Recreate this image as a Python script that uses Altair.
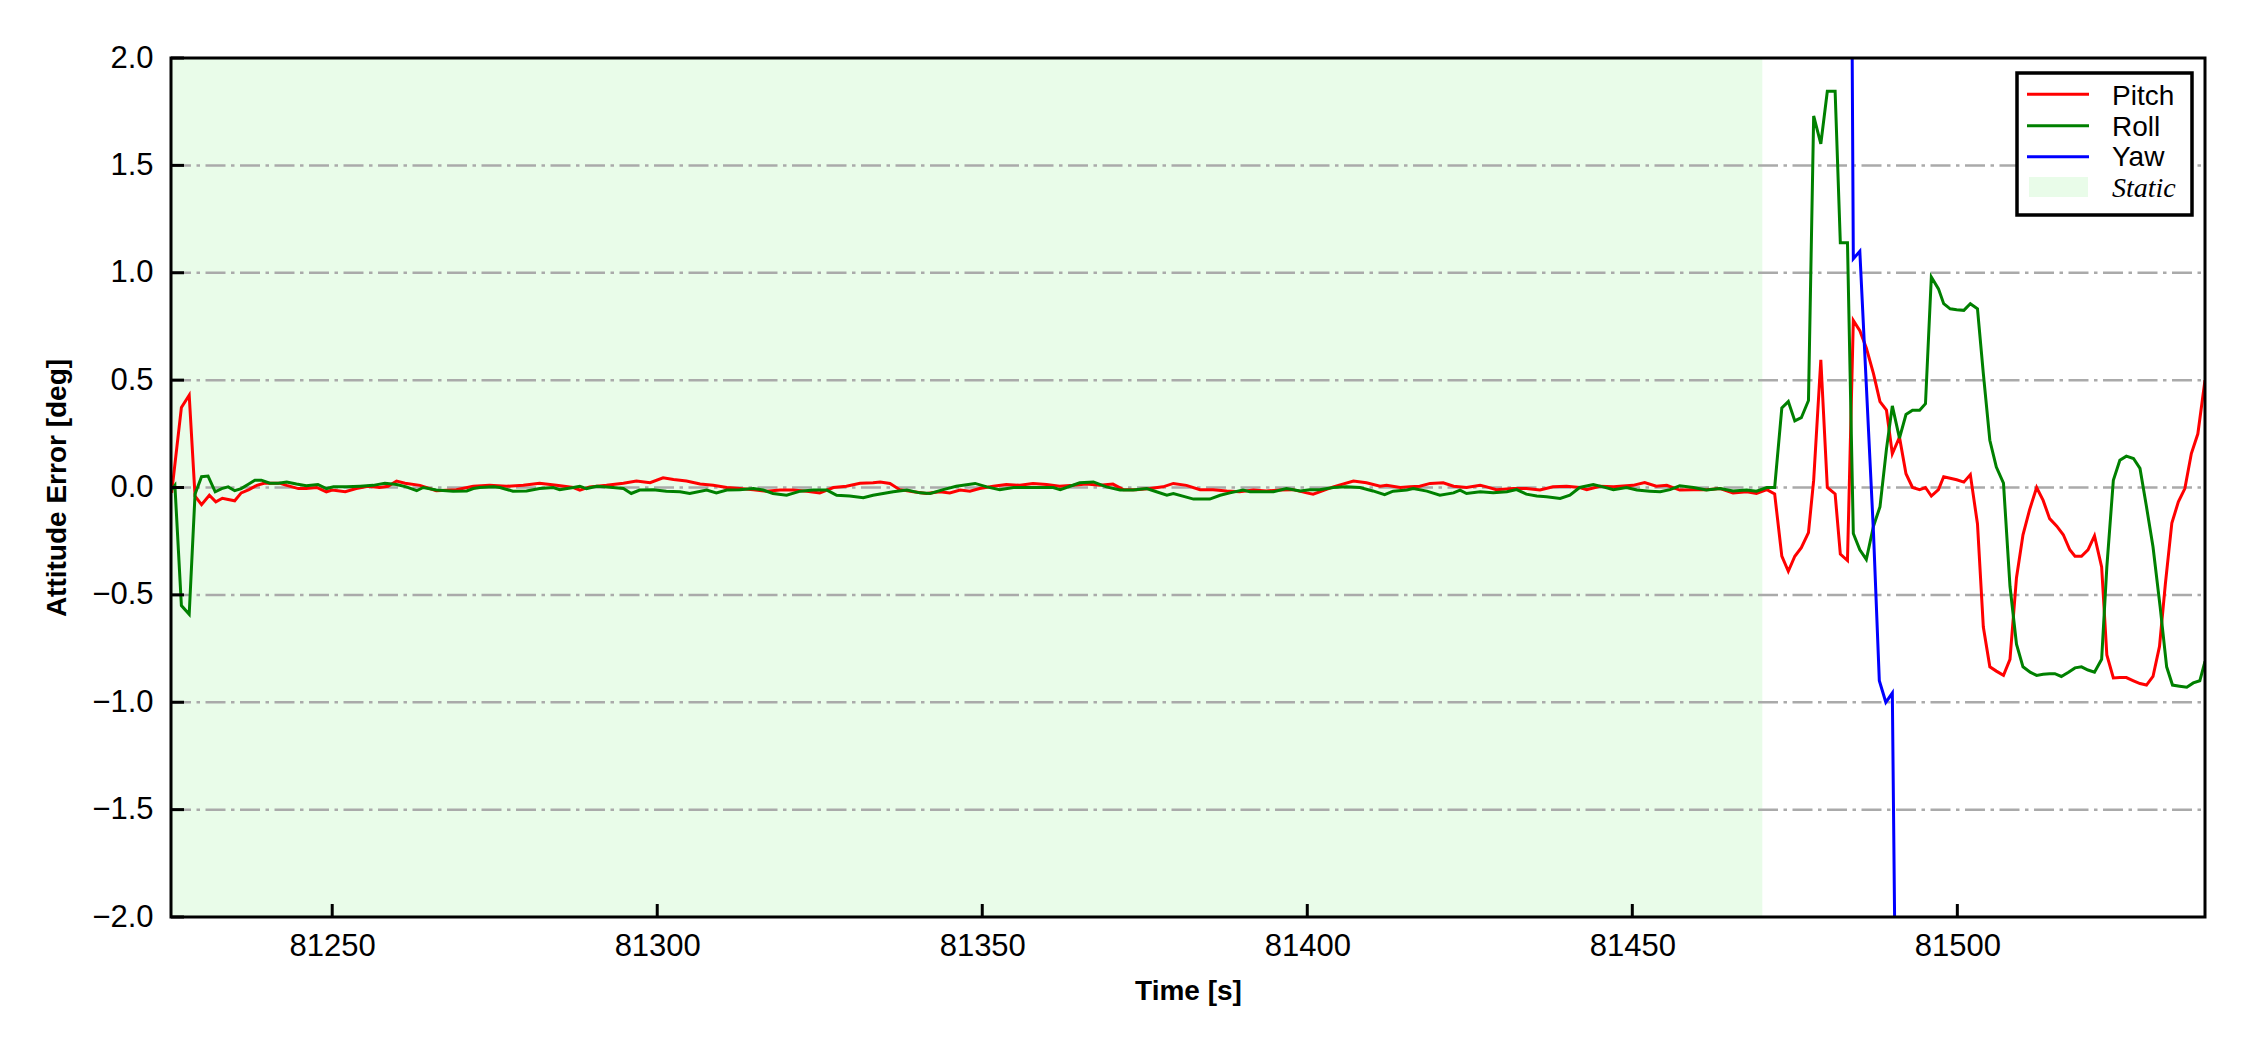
import altair as alt
import pandas as pd

# ---------------- data ----------------
pitch_t_a = [81225.3, 81226.8, 81228.0, 81228.9, 81229.9, 81231.1, 81232.1, 81233.1, 81234.0, 81235.0,
             81236.0, 81237.2, 81238.4, 81239.5, 81240.7, 81242.0, 81243.0, 81244.8, 81246.0, 81247.6,
             81249.1, 81250.0, 81252.0, 81253.7, 81255.5, 81257.3, 81258.6, 81259.9, 81261.2, 81263.5,
             81266.0]
pitch_v_a = [-0.025, 0.373, 0.43, -0.04, -0.08, -0.036, -0.067, -0.05, -0.056, -0.062,
             -0.025, -0.01, 0.01, 0.02, 0.02, 0.02, 0.01, -0.005, -0.005, 0.0,
             -0.02, -0.012, -0.02, -0.005, 0.006, 0.0, 0.006, 0.03, 0.02, 0.01,
             -0.015]
pitch_t_b = [81269.1, 81271.7, 81274.2, 81276.8, 81279.4, 81281.9, 81284.5, 81287.1, 81288.1, 81289.6,
             81292.2, 81294.8, 81296.8, 81298.9, 81300.9, 81302.5, 81304.5, 81306.6, 81308.6, 81310.7,
             81312.7, 81314.8, 81316.8, 81318.9, 81320.9, 81323.0, 81325.0, 81327.1, 81329.1, 81331.2,
             81333.2]
pitch_v_b = [-0.01, 0.006, 0.01, 0.006, 0.01, 0.02, 0.01, 0.0, -0.012, 0.003,
             0.01, 0.02, 0.03, 0.022, 0.045, 0.037, 0.03, 0.016, 0.01, 0.0,
             -0.005, -0.01, -0.017, -0.012, -0.012, -0.017, -0.025, 0.0, 0.006, 0.02,
             0.022]
pitch_t_c = [81334.3, 81335.8, 81337.3, 81339.4, 81341.4, 81343.5, 81345.0, 81346.6, 81348.1, 81349.6,
             81351.7, 81353.7, 81355.8, 81357.8, 81359.9, 81361.9, 81364.0, 81366.0, 81368.1, 81370.1,
             81371.7, 81373.7, 81375.8, 81377.8, 81379.4, 81381.4, 81383.5, 81385.5, 81387.6, 81389.6,
             81391.7, 81393.7, 81395.8, 81397.8, 81399.9, 81400.9]
pitch_v_c = [0.026, 0.019, -0.01, -0.02, -0.028, -0.02, -0.025, -0.012, -0.017, -0.005,
             0.006, 0.014, 0.01, 0.019, 0.014, 0.006, 0.01, 0.016, 0.01, 0.016,
             -0.01, -0.01, -0.005, 0.003, 0.019, 0.01, -0.01, -0.01, -0.016, -0.02,
             -0.012, -0.016, -0.012, -0.01, -0.025, -0.031]
pitch_t_d = [81401.9, 81404.0, 81407.1, 81409.1, 81411.2, 81412.2, 81414.3, 81415.8, 81417.3, 81418.9,
             81420.9, 81422.5, 81424.5, 81426.6, 81427.6, 81429.1, 81431.7, 81433.7, 81435.8, 81437.8,
             81439.9, 81441.9, 81443.0, 81445.0, 81447.1, 81450.1, 81451.9, 81453.7, 81455.3, 81457.3,
             81459.4, 81461.4, 81463.5, 81465.5, 81467.6, 81469.1, 81470.7]
pitch_v_d = [-0.02, 0.003, 0.03, 0.022, 0.006, 0.01, 0.0, 0.003, 0.006, 0.019,
             0.022, 0.006, 0.0, 0.01, 0.003, -0.01, -0.005, -0.005, -0.012, 0.003,
             0.006, 0.0, -0.01, 0.006, 0.003, 0.01, 0.023, 0.006, 0.01, -0.012,
             -0.01, -0.01, -0.005, -0.025, -0.02, -0.028, -0.01]
pitch_t_e = [81471.9, 81473.0, 81474.0, 81475.0, 81476.0, 81477.1, 81477.9, 81479.0, 81480.0, 81481.2,
             81482.0, 81483.1, 81484.0, 81485.0, 81486.0, 81487.1, 81488.1, 81489.1, 81490.0, 81491.1,
             81492.1, 81493.1, 81494.2, 81495.1, 81496.0, 81497.1, 81497.9, 81498.9, 81499.9, 81501.0,
             81502.0, 81503.1, 81504.0, 81505.0, 81506.0, 81507.1, 81508.1, 81509.1, 81510.1, 81511.1,
             81512.2, 81513.2, 81514.2, 81515.3, 81516.3, 81517.3, 81518.1, 81519.1, 81520.1, 81521.1,
             81522.2, 81523.0, 81524.0, 81525.0, 81526.0, 81527.1, 81528.1, 81529.1, 81530.1, 81531.1,
             81532.0, 81533.0, 81534.0, 81535.0, 81536.0, 81537.0, 81538.1]
pitch_v_e = [-0.03, -0.32, -0.39, -0.32, -0.28, -0.21, 0.034, 0.595, 0.0, -0.03,
             -0.31, -0.34, 0.778, 0.73, 0.65, 0.53, 0.40, 0.36, 0.157, 0.234,
             0.064, 0.0, -0.01, 0.0, -0.04, -0.01, 0.05, 0.043, 0.036, 0.025,
             0.06, -0.17, -0.65, -0.835, -0.855, -0.875, -0.80, -0.42, -0.22, -0.105,
             0.0, -0.06, -0.145, -0.18, -0.22, -0.29, -0.32, -0.32, -0.29, -0.225,
             -0.37, -0.78, -0.887, -0.885, -0.885, -0.90, -0.913, -0.92, -0.88, -0.74,
             -0.45, -0.165, -0.067, -0.005, 0.158, 0.25, 0.50]

roll_t_a = [81225.3, 81225.8, 81226.8, 81228.0, 81228.9, 81229.9, 81230.9, 81232.0, 81233.0, 81234.0,
            81235.0, 81236.0, 81237.1, 81238.1, 81239.1, 81240.4, 81241.7, 81243.0, 81244.5, 81246.0,
            81247.8, 81249.1, 81250.2, 81252.2, 81254.3, 81256.3, 81258.1, 81259.9, 81261.4, 81263.0,
            81264.0, 81266.0]
roll_v_a = [-0.01, 0.01, -0.55, -0.59, -0.03, 0.05, 0.053, -0.02, -0.005, 0.003,
            -0.015, -0.005, 0.015, 0.034, 0.034, 0.02, 0.02, 0.026, 0.016, 0.008,
            0.014, -0.005, 0.003, 0.003, 0.006, 0.01, 0.02, 0.014, 0.003, -0.015,
            0.0, -0.012]
roll_t_b = [81268.6, 81270.7, 81271.7, 81272.7, 81274.8, 81275.8, 81277.8, 81279.9, 81281.9, 81284.0,
            81285.0, 81287.1, 81288.1, 81289.1, 81290.7, 81293.2, 81294.8, 81296.0, 81297.3, 81299.4,
            81301.4, 81303.5, 81305.0, 81307.6, 81309.1, 81310.7, 81312.7, 81314.8, 81316.3, 81317.8,
            81319.9, 81322.0, 81324.0, 81326.1, 81327.6, 81329.6, 81331.7, 81333.2]
roll_v_b = [-0.017, -0.016, -0.005, 0.0, 0.003, 0.0, -0.017, -0.016, -0.005, 0.0,
            -0.01, 0.0, 0.006, -0.005, 0.006, 0.0, -0.005, -0.028, -0.012, -0.01,
            -0.017, -0.02, -0.028, -0.012, -0.025, -0.012, -0.01, -0.005, -0.012, -0.028,
            -0.036, -0.017, -0.012, -0.012, -0.036, -0.04, -0.048, -0.036]
roll_t_c = [81336.3, 81338.4, 81340.4, 81342.0, 81344.0, 81346.0, 81348.9, 81350.7, 81352.7, 81354.8,
            81356.8, 81358.9, 81360.9, 81362.0, 81363.5, 81365.0, 81367.1, 81369.1, 81371.2, 81373.2,
            81375.3, 81376.8, 81378.4, 81379.4, 81382.5, 81385.0, 81386.6, 81388.1, 81390.1, 81391.2,
            81393.2, 81394.8, 81396.8, 81398.9, 81400.4]
roll_v_c = [-0.02, -0.012, -0.025, -0.028, -0.01, 0.006, 0.019, 0.003, -0.01, 0.0,
            0.0, 0.0, 0.0, -0.01, 0.006, 0.022, 0.026, 0.003, -0.012, -0.012,
            -0.005, -0.02, -0.036, -0.028, -0.054, -0.054, -0.036, -0.025, -0.012, -0.02,
            -0.02, -0.02, -0.005, -0.016, -0.01]
roll_t_d = [81401.9, 81404.0, 81406.0, 81408.1, 81410.1, 81411.9, 81413.2, 81415.3, 81416.3, 81418.4,
            81420.4, 81422.5, 81423.5, 81424.5, 81426.6, 81428.6, 81430.7, 81432.2, 81433.7, 81435.3,
            81436.8, 81438.9, 81440.4, 81441.9, 81444.0, 81445.5, 81447.1, 81449.1, 81450.7, 81452.7,
            81454.3, 81455.8, 81457.3, 81459.4, 81461.4, 81463.5, 81465.5, 81467.6, 81469.1, 81470.7]
roll_v_d = [-0.01, 0.0, 0.003, 0.0, -0.016, -0.033, -0.017, -0.012, -0.005, -0.017,
            -0.036, -0.025, -0.012, -0.028, -0.02, -0.025, -0.02, -0.01, -0.031, -0.04,
            -0.043, -0.051, -0.036, 0.0, 0.014, 0.003, -0.01, 0.0, -0.012, -0.017,
            -0.02, -0.01, 0.008, 0.0, -0.012, -0.005, -0.016, -0.012, -0.017, 0.0]
roll_t_e = [81471.9, 81473.0, 81474.0, 81475.0, 81476.0, 81477.1, 81477.9, 81479.0, 81480.0, 81481.2,
            81482.0, 81483.1, 81484.0, 81485.0, 81486.0, 81487.1, 81488.1, 81489.1, 81490.0, 81491.1,
            81492.1, 81493.1, 81494.2, 81495.1, 81496.0, 81497.1, 81497.9, 81498.9, 81499.9, 81501.0,
            81502.0, 81503.1, 81504.0, 81505.0, 81506.0, 81507.1, 81508.1, 81509.1, 81510.1, 81511.2,
            81512.2, 81513.2, 81514.2, 81515.0, 81516.0, 81517.1, 81518.1, 81519.1, 81520.1, 81521.1,
            81522.2, 81523.0, 81524.0, 81525.0, 81526.0, 81527.1, 81528.1, 81529.1, 81530.1, 81531.2,
            81532.2, 81533.1, 81534.2, 81535.3, 81536.3, 81537.3, 81538.1]
roll_v_e = [0.0, 0.37, 0.40, 0.31, 0.325, 0.405, 1.73, 1.60, 1.845, 1.845,
            1.14, 1.14, -0.214, -0.29, -0.335, -0.18, -0.09, 0.18, 0.38, 0.23,
            0.34, 0.36, 0.36, 0.39, 0.98, 0.925, 0.856, 0.832, 0.828, 0.825,
            0.856, 0.832, 0.53, 0.22, 0.095, 0.02, -0.46, -0.73, -0.835, -0.86,
            -0.875, -0.87, -0.867, -0.867, -0.88, -0.86, -0.84, -0.835, -0.85, -0.86,
            -0.80, -0.37, 0.034, 0.127, 0.146, 0.135, 0.089, -0.09, -0.276, -0.556,
            -0.835, -0.92, -0.925, -0.93, -0.91, -0.90, -0.81]

yaw_t = [81483.0, 81484.0, 81485.0, 81487.1, 81488.0, 81489.0, 81490.0, 81491.0]
yaw_v = [6.5, 1.065, 1.10, -0.21, -0.90, -1.0, -0.957, -3.94]

series_names = ["Pitch", "Roll", "Yaw"]
series_colors = ["#ff0000", "#008000", "#0000ff"]
x_ticks = [81250, 81300, 81350, 81400, 81450, 81500]
y_ticks = [-2.0, -1.5, -1.0, -0.5, 0.0, 0.5, 1.0, 1.5, 2.0]
grid_vals = [-1.5, -1.0, -0.5, 0.0, 0.5, 1.0, 1.5]
x_domain = [81225.2, 81538.1]
y_domain = [-2.0, 2.0]
static_span = [81225.2, 81470.0]

# ---------------- build ----------------
W, H = 2034, 859
FONT = "Liberation Sans"

rows = []
pitch_t = pitch_t_a + pitch_t_b + pitch_t_c + pitch_t_d + pitch_t_e
pitch_v = pitch_v_a + pitch_v_b + pitch_v_c + pitch_v_d + pitch_v_e
roll_t = roll_t_a + roll_t_b + roll_t_c + roll_t_d + roll_t_e
roll_v = roll_v_a + roll_v_b + roll_v_c + roll_v_d + roll_v_e
for name, ts, vs in [("Pitch", pitch_t, pitch_v), ("Roll", roll_t, roll_v), ("Yaw", yaw_t, yaw_v)]:
    for t, v in zip(ts, vs):
        rows.append({"t": t, "v": v, "s": name})
df = pd.DataFrame(rows)

xs = alt.Scale(domain=x_domain, nice=False, zero=False)
ys = alt.Scale(domain=y_domain, nice=False, zero=False)

xaxis = alt.Axis(values=x_ticks, format="d", title="Time [s]", ticks=False, tickSize=0,
                 domain=False, grid=False, labelFont=FONT, labelFontSize=31, labelColor="black",
                 labelPadding=38, labelBaseline="alphabetic", labelFlush=False, labelOverlap=False,
                 titleFont=FONT, titleFontWeight="bold", titleFontSize=28, titleColor="black",
                 titleX=W / 2, titleY=82, titleBaseline="alphabetic", titleAlign="center")
yaxis = alt.Axis(values=y_ticks, format=".1f", title="Attitude Error [deg]", ticks=False, tickSize=0,
                 domain=False, grid=False, labelFont=FONT, labelFontSize=31, labelColor="black",
                 labelPadding=18, labelFlush=False, labelOverlap=False,
                 titleFont=FONT, titleFontWeight="bold", titleFontSize=28, titleColor="black",
                 titleAngle=270, titleX=-106, titleY=H / 2, titleBaseline="alphabetic", titleAlign="center")

shade = alt.Chart(pd.DataFrame({"start": [static_span[0]], "end": [static_span[1]]})).mark_rect(
    color="#e9fce9").encode(
    x=alt.X("start:Q", scale=xs, axis=xaxis), x2="end:Q",
    y=alt.value(0), y2=alt.value(H))

grid = alt.Chart(pd.DataFrame({"g": grid_vals})).mark_rule(
    color="#aaaaaa", strokeWidth=2.5, strokeDash=[20, 5.5, 3.5, 5.5]).encode(
    y=alt.Y("g:Q", scale=ys, axis=yaxis), x=alt.value(0), x2=alt.value(W))

lines = alt.Chart(df).mark_line(strokeWidth=3, clip=True).encode(
    x=alt.X("t:Q", scale=xs, axis=xaxis),
    y=alt.Y("v:Q", scale=ys, axis=yaxis),
    color=alt.Color("s:N", scale=alt.Scale(domain=series_names, range=series_colors), legend=None),
    order=alt.Order("t:Q"))

xt = alt.Chart(pd.DataFrame({"x": x_ticks})).mark_rule(color="black", strokeWidth=3).encode(
    x=alt.X("x:Q", scale=xs, axis=xaxis), y=alt.value(H), y2=alt.value(H - 13))
yt = alt.Chart(pd.DataFrame({"y": y_ticks})).mark_rule(color="black", strokeWidth=3).encode(
    y=alt.Y("y:Q", scale=ys, axis=yaxis), x=alt.value(0), x2=alt.value(13))

one = pd.DataFrame({"k": [0]})
frame = alt.Chart(one).mark_rect(filled=False, stroke="black", strokeWidth=3).encode(
    x=alt.value(0), x2=alt.value(W), y=alt.value(0), y2=alt.value(H))

# legend (drawn by hand so that "Static" can be italic serif)
box = alt.Chart(one).mark_rect(fill="white", stroke="black", strokeWidth=3.5).encode(
    x=alt.value(1846), x2=alt.value(2021), y=alt.value(15), y2=alt.value(157))
leg = [box]
for name, col, yy, yb in zip(series_names, series_colors, [36.3, 67.7, 98.7], [47, 78, 108]):
    leg.append(alt.Chart(one).mark_rule(color=col, strokeWidth=3).encode(
        x=alt.value(1856), x2=alt.value(1918), y=alt.value(yy)))
    leg.append(alt.Chart(one).mark_text(font=FONT, fontSize=28, align="left", baseline="alphabetic",
                                        color="black").encode(
        x=alt.value(1941), y=alt.value(yb), text=alt.value(name)))
leg.append(alt.Chart(one).mark_rect(color="#e9fce9").encode(
    x=alt.value(1858), x2=alt.value(1917), y=alt.value(119), y2=alt.value(139)))
leg.append(alt.Chart(one).mark_text(font="Liberation Serif", fontStyle="italic", fontSize=28,
                                    align="left", baseline="alphabetic", color="black").encode(
    x=alt.value(1941), y=alt.value(138.7), text=alt.value("Static")))

chart = alt.layer(shade, grid, lines, xt, yt, frame, *leg).properties(
    width=W, height=H,
    padding={"left": 163, "top": 50, "right": 37, "bottom": 120},
    autosize=alt.AutoSizeParams(type="none"),
    background="white",
).configure_view(stroke=None)

chart.save("out.html", embed_options={"renderer": "svg", "actions": False})
